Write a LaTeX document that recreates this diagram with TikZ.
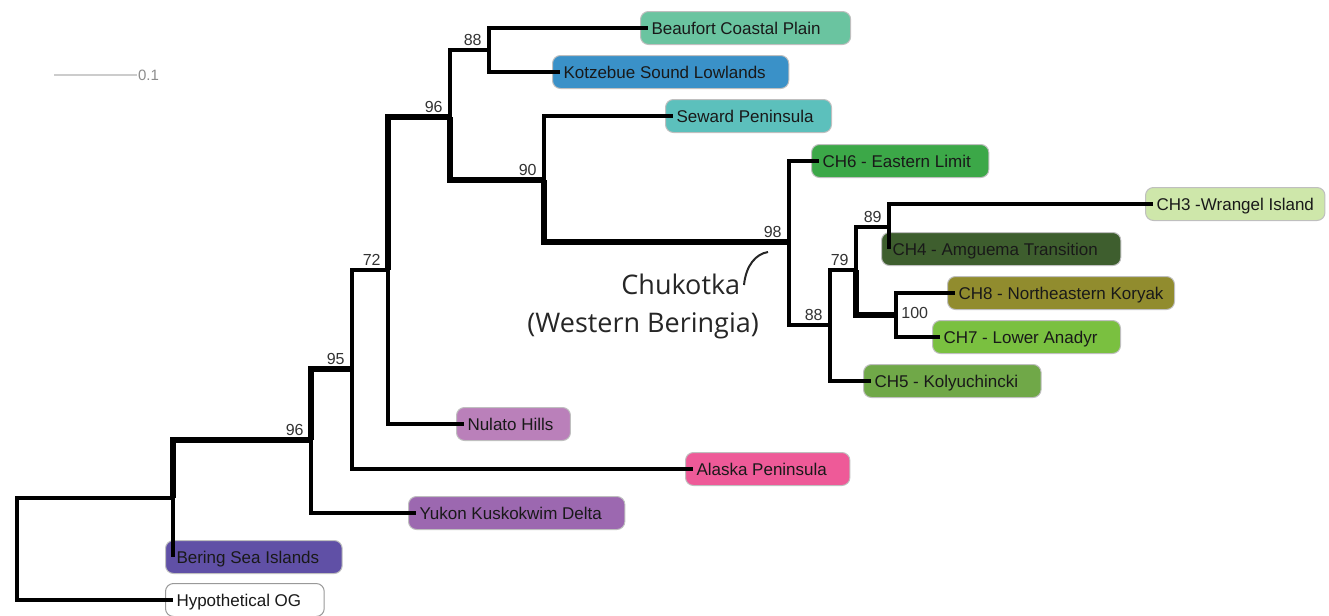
\documentclass[tikz,border=0pt]{standalone}
\usepackage{fontspec}
\setmainfont{Liberation Sans}
\newfontfamily\regionfont{Open Sans}
\newcommand{\bootfont}{\fontsize{8}{9}\selectfont}
\definecolor{beaufort}{HTML}{6AC4A0}
\definecolor{kotzebue}{HTML}{3A91C8}
\definecolor{seward}{HTML}{5CC0BC}
\definecolor{chsix}{HTML}{3CA848}
\definecolor{chthree}{HTML}{CEE7AA}
\definecolor{chfour}{HTML}{3E5E2E}
\definecolor{cheight}{HTML}{918C2E}
\definecolor{chseven}{HTML}{7AC040}
\definecolor{chfive}{HTML}{70A848}
\definecolor{nulato}{HTML}{BA80BA}
\definecolor{alaska}{HTML}{EE5A98}
\definecolor{yukon}{HTML}{9C68B0}
\definecolor{bering}{HTML}{6050A6}
\tikzset{
  tip/.style={draw=black!25, line width=0.5pt, rounded corners=4pt, anchor=west,
    minimum height=16.5pt, inner ysep=0pt, inner xsep=5.5pt, text height=7pt,
    text depth=1pt, text=black!90, font=\fontsize{8.5}{10}\selectfont,
    execute at end node={\hspace*{#1}}},
  tip/.default=6pt,
  branch/.style={line width=1.6pt},
  strong/.style={line width=3pt},
  boot/.style={anchor=south east, inner sep=0pt, xshift=-3.5pt, yshift=2pt,
    text=black!80, font=\bootfont},
  region/.style={anchor=base west, inner sep=0pt, text=black!85,
    font=\regionfont\fontsize{13.5}{15}\selectfont}
}
\begin{document}
\begin{tikzpicture}[x=0.5pt,y=-0.5pt]
			\useasboundingbox (0,0) rectangle (1329,616);
			% scale bar
			\coordinate (sbl) at (54,75);
			\coordinate (sbr) at (137,75);
			\draw[black!20,line width=1pt] (sbl) -- (sbr) node[anchor=west,inner sep=0pt,text=black!45,font=\fontsize{7.5}{9}\selectfont] (sbt) {0.1};
			% tips
			\node[tip=9.5pt,fill=beaufort] (bcp) at (640,28) {Beaufort Coastal Plain};
			\node[tip,fill=kotzebue] (ksl) at (552,72) {Kotzebue Sound Lowlands};
			\node[tip=3.5pt,fill=seward] (sew) at (665,116) {Seward Peninsula};
			\node[tip=3.5pt,fill=chsix] (ch6) at (811,161) {CH6 - Eastern Limit};
			\node[tip=0pt,fill=chthree] (ch3) at (1145,204) {CH3 -Wrangel Island};
			\node[tip,fill=chfour] (ch4) at (881,249) {CH4 - Amguema Transition};
			\node[tip=0pt,fill=cheight] (ch8) at (947,293) {CH8 - Northeastern Koryak};
			\node[tip,fill=chseven] (ch7) at (932,337) {CH7 - Lower Anadyr};
			\node[tip,fill=chfive] (ch5) at (863,381) {CH5 - Kolyuchincki};
			\node[tip=3pt,fill=nulato] (nul) at (456,424) {Nulato Hills};
			\node[tip,fill=alaska] (alp) at (685,469) {Alaska Peninsula};
			\node[tip,fill=yukon] (ykd) at (408,513) {Yukon Kuskokwim Delta};
			\node[tip,fill=bering] (bsi) at (165,557) {Bering Sea Islands};
			\node[tip,fill=white,draw=black!40] (hog) at (165,600) {Hypothetical OG};
			% internal nodes
			\coordinate (root) at (17,549);
			\coordinate (nA) at (173,498);
			\coordinate (nB) at (311,440);
			\coordinate (nC) at (352,369);
			\coordinate (nD) at (388,270);
			\coordinate (nE) at (450,117);
			\coordinate (nF) at (489,50);
			\coordinate (nG) at (544,180);
			\coordinate (nH) at (789,242);
			\coordinate (nI) at (830,325);
			\coordinate (nJ) at (856,270);
			\coordinate (nK) at (889,227);
			\coordinate (nL) at (896,315);
			% outgroup and Bering Sea
			\draw[branch] (root) |- ([xshift=4pt]hog.west);
			\draw[branch] (root) |- (nA);
			\draw[branch] (nA) |- ([xshift=4pt]bsi.west);
			\draw[strong] (nA) |- (nB);
			% Yukon, Alaska Peninsula, Nulato
			\draw[branch] (nB) |- ([xshift=4pt]ykd.west);
			\draw[strong] (nB) |- (nC);
			\draw[branch] (nC) |- ([xshift=4pt]alp.west);
			\draw[branch] (nC) |- (nD);
			\draw[branch] (nD) |- ([xshift=4pt]nul.west);
			\draw[strong] (nD) |- (nE);
			% Beaufort and Kotzebue
			\draw[branch] (nE) |- (nF);
			\draw[branch] (nF) |- ([xshift=4pt]bcp.west);
			\draw[branch] (nF) |- ([xshift=4pt]ksl.west);
			% Seward and Chukotka
			\draw[strong] (nE) |- (nG);
			\draw[branch] (nG) |- ([xshift=4pt]sew.west);
			\draw[strong] (nG) |- (nH);
			\draw[branch] (nH) |- ([xshift=4pt]ch6.west);
			\draw[branch] (nH) |- (nI);
			\draw[branch] (nI) |- ([xshift=4pt]ch5.west);
			\draw[branch] (nI) |- (nJ);
			\draw[branch] (nJ) |- (nK);
			\draw[branch] (nK) |- ([xshift=4pt]ch3.west);
			\draw[branch] (nK) |- ([xshift=4pt]ch4.west);
			\draw[strong] (nJ) |- (nL);
			\draw[branch] (nL) |- ([xshift=4pt]ch8.west);
			\draw[branch] (nL) |- ([xshift=4pt]ch7.west);
			% bootstrap values
			\node[boot] (bB) at (nB) {96};
			\node[boot] (bC) at (nC) {95};
			\node[boot] (bD) at (nD) {72};
			\node[boot] (bE) at (nE) {96};
			\node[boot] (bF) at (nF) {88};
			\node[boot] (bG) at (nG) {90};
			\node[boot] (bH) at (nH) {98};
			\node[boot] (bI) at (nI) {88};
			\node[boot] (bJ) at (nJ) {79};
			\node[boot] (bK) at (nK) {89};
			\node[anchor=west,inner sep=0pt,text=black!80,font=\bootfont] (bL) at ([xshift=2.5pt,yshift=1pt]nL) {100};
			% Chukotka label
			\node[region] (chk) at (621,294) {Chukotka};
			\node[region] (wb) at (527,332) {(Western Beringia)};
			\coordinate (hookA) at (744,285);
			\coordinate (hookB) at (768,252);
			\draw[black!85,line width=1pt] (hookA) .. controls +(2,-20) and +(-12,2) .. (hookB);
\end{tikzpicture}
\end{document}
